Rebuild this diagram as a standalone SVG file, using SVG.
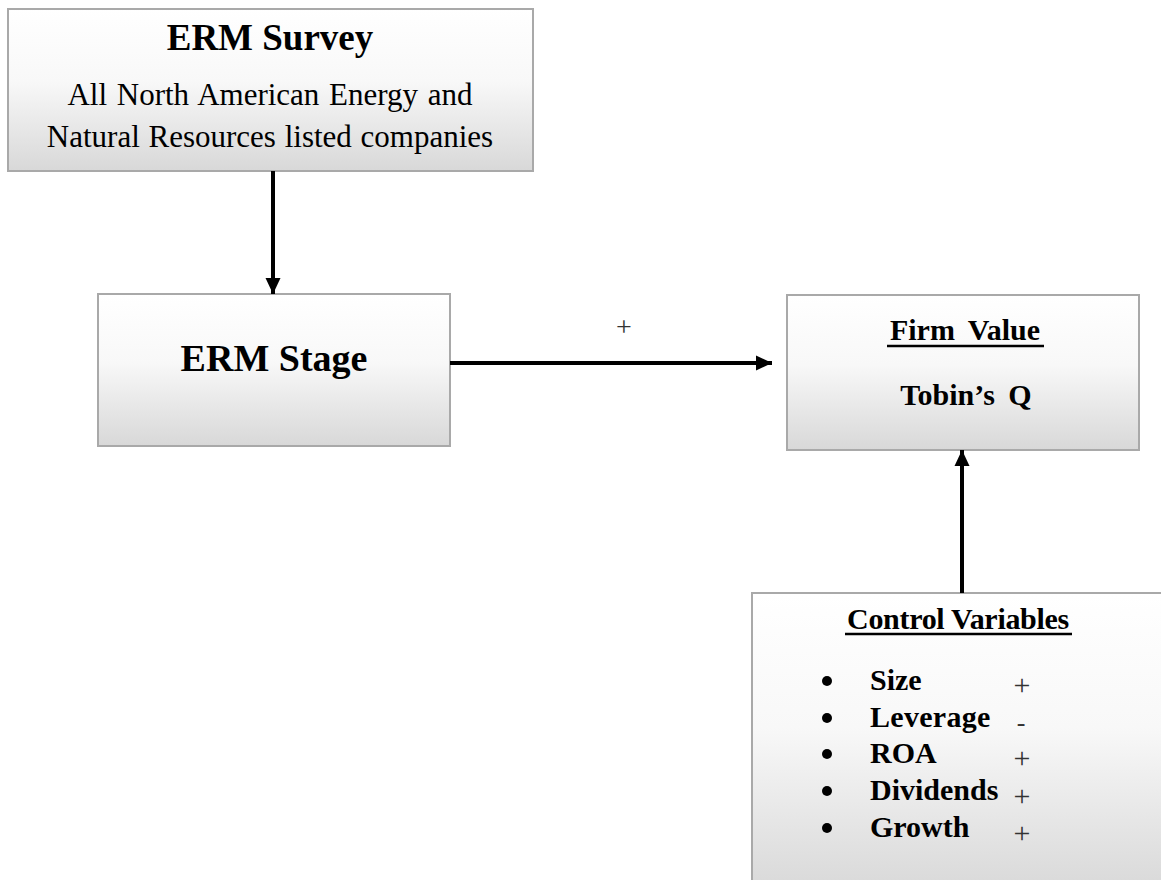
<svg xmlns="http://www.w3.org/2000/svg" width="1161" height="880" viewBox="0 0 1161 880">
<defs>
<linearGradient id="g" x1="0" y1="0" x2="0" y2="1">
<stop offset="0" stop-color="#ffffff"/>
<stop offset="0.45" stop-color="#f8f8f8"/>
<stop offset="1" stop-color="#d8d8d8"/>
</linearGradient>
<marker id="ah" markerUnits="userSpaceOnUse" markerWidth="17" markerHeight="16" refX="16" refY="8" orient="auto">
<path d="M0,0.5 L16,8 L0,15.5 z" fill="#000"/>
</marker>
<style>
.box{fill:url(#g);stroke:#a9a9a9;stroke-width:2}
.t{font-family:"Liberation Serif","Times New Roman",serif;fill:#000}
.b{font-weight:bold}
.c{text-anchor:middle}
.sg{font-family:"Liberation Serif","Times New Roman",serif;fill:#333;text-anchor:middle}
.con{stroke:#000;stroke-width:4;fill:none}
.ul{stroke:#000;stroke-width:2.5}
</style>
</defs>
<rect width="1161" height="880" fill="#fff"/>
<g id="erm-survey">
<rect class="box" x="8" y="9" width="525" height="162"/>
<text class="t b c" x="270" y="50" font-size="37">ERM Survey</text>
<text class="t c" x="270" y="105" font-size="31" word-spacing="2">All North American Energy and</text>
<text class="t c" x="270" y="147" font-size="31" word-spacing="1">Natural Resources listed companies</text>
</g>
<g id="erm-stage">
<rect class="box" x="98" y="294" width="352" height="152"/>
<text class="t b c" x="274" y="371" font-size="38">ERM Stage</text>
</g>
<g id="firm-value">
<rect class="box" x="787" y="295" width="352" height="155"/>
<text class="t b c" x="965" y="340" font-size="30" word-spacing="6">Firm Value</text>
<line class="ul" x1="887" y1="346" x2="1044" y2="346"/>
<text class="t b c" x="966" y="405" font-size="30" word-spacing="6">Tobin’s Q</text>
</g>
<g id="control-variables">
<rect class="box" x="752" y="593" width="420" height="300"/>
<text class="t b c" x="958" y="629" font-size="30" letter-spacing="-0.3">Control Variables</text>
<line class="ul" x1="845" y1="634" x2="1072" y2="634"/>
<g fill="#000">
<circle cx="827" cy="681" r="5"/>
<circle cx="827" cy="718" r="5"/>
<circle cx="827" cy="754" r="5"/>
<circle cx="827" cy="791" r="5"/>
<circle cx="827" cy="828" r="5"/>
</g>
<text class="t b" x="870" y="690" font-size="30">Size</text>
<text class="t b" x="870" y="727" font-size="30" letter-spacing="0.3">Leverage</text>
<text class="t b" x="870" y="763" font-size="30">ROA</text>
<text class="t b" x="870" y="800" font-size="30">Dividends</text>
<text class="t b" x="870" y="837" font-size="30">Growth</text>
<text class="sg" x="1022" y="695" font-size="30">+</text>
<text class="sg" x="1021" y="731" font-size="26">-</text>
<text class="sg" x="1022" y="768" font-size="30">+</text>
<text class="sg" x="1022" y="806" font-size="30">+</text>
<text class="sg" x="1022" y="843" font-size="30">+</text>
</g>
<g id="connectors">
<line class="con" x1="273" y1="171" x2="273" y2="294" marker-end="url(#ah)"/>
<line class="con" x1="450" y1="363" x2="772" y2="363" marker-end="url(#ah)"/>
<line class="con" x1="962" y1="593" x2="962" y2="450" marker-end="url(#ah)"/>
<text class="sg" x="624" y="336" font-size="28">+</text>
</g>
</svg>
